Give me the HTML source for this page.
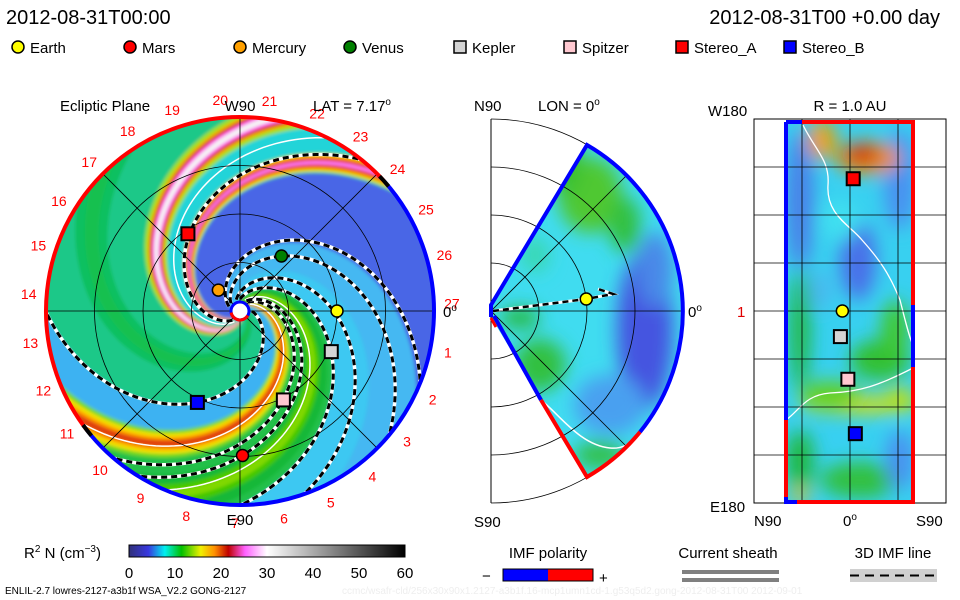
<!DOCTYPE html>
<html><head><meta charset="utf-8"><title>ENLIL</title>
<style>
html,body{margin:0;padding:0;background:#fff;}
svg{display:block;font-family:"Liberation Sans",sans-serif;}
text{fill:#000;}
</style></head>
<body>
<svg id="chart" xmlns="http://www.w3.org/2000/svg" width="960" height="600" viewBox="0 0 960 600">
<defs>
  <clipPath id="clipLeft"><circle cx="240" cy="311" r="194"/></clipPath>
  <clipPath id="clipWedge"><path d="M491,305 L587,145 A192,192 0 0 1 587,477 L491,317 Z"/></clipPath>
  <clipPath id="clipRect"><rect x="786" y="122" width="127" height="380"/></clipPath>
  <filter id="soft" x="-20%" y="-20%" width="140%" height="140%"><feGaussianBlur stdDeviation="1.6"/></filter>
  <filter id="blob" x="-50%" y="-50%" width="200%" height="200%"><feGaussianBlur stdDeviation="9"/></filter>
  <linearGradient id="cbar" x1="0" x2="1" y1="0" y2="0">
    <stop offset="0" stop-color="#303078"/>
    <stop offset="0.07" stop-color="#3838e0"/>
    <stop offset="0.13" stop-color="#00f0f0"/>
    <stop offset="0.19" stop-color="#00c000"/>
    <stop offset="0.26" stop-color="#f0f000"/>
    <stop offset="0.31" stop-color="#ff9000"/>
    <stop offset="0.36" stop-color="#c00000"/>
    <stop offset="0.42" stop-color="#ff60ff"/>
    <stop offset="0.5" stop-color="#ffffff"/>
    <stop offset="1" stop-color="#000000"/>
  </linearGradient>
</defs>

<text x="6" y="24" font-size="20">2012-08-31T00:00</text>
<text x="940" y="24" font-size="20" text-anchor="end">2012-08-31T00 +0.00 day</text>

<g id="legend"></g>

<g id="leftPanel"></g>
<g id="midPanel"></g>
<g id="rightPanel"></g>

<text x="60" y="111" font-size="15">Ecliptic Plane</text>
<text x="240" y="111" font-size="15" text-anchor="middle">W90</text>
<text x="313" y="111" font-size="15">LAT = 7.17<tspan font-size="10" dy="-6">o</tspan></text>
<text x="240" y="525" font-size="15" text-anchor="middle">E90</text>
<text x="443" y="317" font-size="15">0<tspan font-size="10" dy="-6">o</tspan></text>

<text x="474" y="111" font-size="15">N90</text>
<text x="538" y="111" font-size="15">LON = 0<tspan font-size="10" dy="-6">o</tspan></text>
<text x="688" y="317" font-size="15">0<tspan font-size="10" dy="-6">o</tspan></text>
<text x="474" y="527" font-size="15">S90</text>

<text x="708" y="116" font-size="15">W180</text>
<text x="850" y="111" font-size="15" text-anchor="middle">R = 1.0 AU</text>
<text x="737" y="317" font-size="15" style="fill:#e00000">1</text>
<text x="710" y="512" font-size="15">E180</text>
<text x="754" y="526" font-size="15">N90</text>
<text x="843" y="526" font-size="15">0<tspan font-size="10" dy="-6">o</tspan></text>
<text x="916" y="526" font-size="15">S90</text>

<text x="24" y="558" font-size="15">R<tspan font-size="10" dy="-6">2</tspan><tspan dy="6"> N (cm</tspan><tspan font-size="10" dy="-6">−3</tspan><tspan dy="6">)</tspan></text>
<rect x="129" y="545" width="276" height="12" fill="url(#cbar)" stroke="#000" stroke-width="1"/>
<g id="cbarTicks"></g>

<text x="5" y="594" font-size="10">ENLIL-2.7 lowres-2127-a3b1f WSA_V2.2 GONG-2127</text>
<text x="342" y="594" font-size="10" style="fill:#eeeeee">ccmc/wsafr-cld/256x30x90x1.2127-a3b1f.16-mcp1umn1cd-1.g53q5d2.gong-2012-08-31T00    2012-09-01</text>

<text x="548" y="558" font-size="15" text-anchor="middle">IMF polarity</text>
<text x="482" y="581" font-size="15">−</text>
<rect x="503" y="569" width="45" height="12" fill="#0000ff"/>
<rect x="548" y="569" width="45" height="12" fill="#ff0000"/>
<rect x="503" y="569" width="90" height="12" fill="none" stroke="#000"/>
<text x="599" y="583" font-size="15">+</text>

<text x="728" y="558" font-size="15" text-anchor="middle">Current sheath</text>
<rect x="682" y="570" width="97" height="4" fill="#808080"/>
<rect x="682" y="578" width="97" height="4" fill="#808080"/>

<text x="893" y="558" font-size="15" text-anchor="middle">3D IMF line</text>
<rect x="850" y="569" width="87" height="13" fill="#d0d0d0"/>
<line x1="850" y1="575.5" x2="937" y2="575.5" stroke="#000" stroke-width="2" stroke-dasharray="9,6"/>

<script>
// ---------- data ----------
const bodyNames   = ['Earth','Mars','Mercury','Venus','Kepler','Spitzer','Stereo_A','Stereo_B'];
const bodyLonDeg  = [0, -89, 136, 53, -24, -64, 124, -115];
const bodyRAU     = [1.0, 1.49, 0.31, 0.71, 1.03, 1.02, 0.96, 1.04];
const bodyLatDeg  = [7.17, 0, 0, 0, 9, 2, -3, -5];
const bodyShape   = ['circle','circle','circle','circle','square','square','square','square'];
const bodyColor   = ['#ffff00','#ff0000','#ffa000','#008000','#d4d4d4','#ffc8d0','#ff0000','#0000ff'];
const imfPhase    = [5, 54, 63, 95, 114, 145, 163, 236];
const sheathPhase = [248, 40, 72];
const sectorStart = [5, 30, 45, 95, 125, 160, 222, 238, 262, 275];
const sectorEnd   = [30, 45, 95, 125, 160, 222, 238, 262, 275, 365];
const cbarTicks   = [0, 10, 20, 30, 40, 50, 60];
const lonLabels   = [1,2,3,4,5,6,7,8,9,10,11,12,13,14,15,16,17,18,19,20,21,22,23,24,25,26,27];

// ---------- helpers ----------
const NS = 'http://www.w3.org/2000/svg';
function mk(tag, parent){ const e = document.createElementNS(NS, tag); parent.appendChild(e); return e; }
function set(e, o){ for (const k in o) e.setAttribute(k, o[k]); return e; }
const CX = 240, CY = 311, RMAX = 194, PXAU = 97;
function P(r, deg){ const a = deg*Math.PI/180; return [CX + r*Math.cos(a), CY - r*Math.sin(a)]; }
function f(r){ return 0.45*r + 35*Math.log(r/12); }
function spiralPts(th0, r1, r2){ const pts=[]; for(let r=r1;r<=r2;r+=3){ pts.push(P(r, th0 - f(r))); } return pts; }
function sectorPath(a, b){
  const pts = [];
  for (let r=6; r<=260; r+=4) pts.push(P(r, a - f(r)));
  for (let t=a; t<=b; t+=2) pts.push(P(260, t - f(260)));
  for (let r=260; r>=6; r-=4) pts.push(P(r, b - f(r)));
  return 'M' + pts.map(p=>p[0].toFixed(1)+','+p[1].toFixed(1)).join('L') + 'Z';
}

// ---------- legend ----------
const legend = document.getElementById('legend');
const legendX = [18,130,240,350,460,570,682,790];
bodyNames.forEach((n,i)=>{
  const x = legendX[i];
  let m;
  if (bodyShape[i]==='circle'){ m = set(mk('circle',legend),{cx:x,cy:47,r:6,fill:bodyColor[i],stroke:'#000','stroke-width':1.5}); }
  else { m = set(mk('rect',legend),{x:x-6,y:41,width:12,height:12,fill:bodyColor[i],stroke:'#000','stroke-width':1.5}); }
  
  
  const t = set(mk('text',legend),{x:x+12,y:53,'font-size':15});
  t.textContent = n;
  
  
});

// ---------- left panel ----------
const L = document.getElementById('leftPanel');
const sectorFill = ['#3cb2f2','#40c870','#22c04a','#3ec8f2','#44b8f2','#4a66e6','#30c8b0','#20d4d8','#30c888','#1cc888'];
const field = set(mk('g',L),{'clip-path':'url(#clipLeft)'});
const fieldInner = set(mk('g',field),{filter:'url(#soft)'});
set(mk('circle',fieldInner),{cx:CX,cy:CY,r:RMAX,fill:'#30c8c0'});
sectorStart.forEach((a,i)=>{
  const p = set(mk('path',fieldInner),{d:sectorPath(a, sectorEnd[i]), fill:sectorFill[i]});
  
  
});
const bandCenter = [266, 230, 38, 75, 320];
const bandLayers = [
  [[11,'#a0e020'],[8,'#f0b000'],[6,'#d81818'],[4,'#ff70f0'],[2,'#f4f4f4']],
  [[7,'#d0e000'],[5,'#ff9000'],[3,'#e02020'],[1.2,'#ff80ff']],
  [[11,'#70d820'],[8,'#f0e000'],[5,'#ff9a00'],[2.5,'#e04010']],
  [[14,'#18b838'],[7,'#44c800'],[3,'#80d800']],
  [[12,'#10c060'],[5,'#18c050']]
];
bandCenter.forEach((c,i)=>{
  bandLayers[i].forEach(l=>{
    const p = set(mk('path',fieldInner),{d:sectorPath(c-l[0], c+l[0]), fill:l[1]});
    
    
  });
});
sheathPhase.forEach(ph=>{
  const pts = spiralPts(ph, 12, 260);
  const pl = set(mk('polyline',field),{points:pts.map(p=>p.join(',')).join(' '),fill:'none',stroke:'#fff','stroke-width':1.5});
  
  
});
imfPhase.forEach(ph=>{
  const pts = spiralPts(ph, 12, 260).map(p=>p.join(',')).join(' ');
  const w = set(mk('polyline',field),{points:pts,fill:'none',stroke:'#fff','stroke-width':3.5});
  
  
  const b = set(mk('polyline',field),{points:pts,fill:'none',stroke:'#000','stroke-width':3,'stroke-dasharray':'6,4'});
  
  
});
[0.5,1,1.5].forEach(au=>{
  const c = set(mk('circle',L),{cx:CX,cy:CY,r:au*PXAU,fill:'none',stroke:'#000','stroke-width':0.8});
  
  
});
[0,45,90,135].forEach(d=>{
  const a = P(RMAX,d), b = P(RMAX,d+180);
  const ln = set(mk('line',L),{x1:a[0],y1:a[1],x2:b[0],y2:b[1],stroke:'#000','stroke-width':0.8});
  
  
});
function arcD(r, d1, d2){ const a=P(r,d1), b=P(r,d2); const large = Math.abs(d2-d1)>180?1:0; return `M${a[0]},${a[1]} A${r},${r} 0 ${large} 0 ${b[0]},${b[1]}`; }
const ringRed = set(mk('path',L),{d:arcD(RMAX,42,218),fill:'none',stroke:'#ff0000','stroke-width':4});


const ringBlue = set(mk('path',L),{d:arcD(RMAX,218,402),fill:'none',stroke:'#0000ff','stroke-width':4});


[[40,44],[216,220]].forEach(s=>{
  const k = set(mk('path',L),{d:arcD(RMAX,s[0],s[1]),fill:'none',stroke:'#000','stroke-width':4});
  
  
});
const sun = set(mk('circle',L),{cx:CX,cy:CY,r:9,fill:'#fff',stroke:'#0000ff','stroke-width':3});


const sunRed = set(mk('path',L),{d:arcD(9,190,330),fill:'none',stroke:'#ff0000','stroke-width':3});


lonLabels.forEach(k=>{
  const p = P(212, -13.333*k + 2);
  const t = set(mk('text',L),{x:p[0],y:p[1]+5,'font-size':14,'text-anchor':'middle',style:'fill:#ff0000'});
  t.textContent = k;
  
  
});
function drawMarker(parent, shape, x, y, color, name){
  let m;
  if (shape==='circle') m = set(mk('circle',parent),{cx:x,cy:y,r:6,fill:color,stroke:'#000','stroke-width':1.5});
  else m = set(mk('rect',parent),{x:x-6.5,y:y-6.5,width:13,height:13,fill:color,stroke:'#000','stroke-width':2});
  
  
}
bodyNames.forEach((n,i)=>{
  const p = P(bodyRAU[i]*PXAU, bodyLonDeg[i]);
  drawMarker(L, bodyShape[i], p[0], p[1], bodyColor[i], 'ecliptic-marker-' + n.toLowerCase());
});

// ---------- middle panel ----------
const M = document.getElementById('midPanel');
const MX = 491, MY = 311;
function MP(r, deg){ const a=deg*Math.PI/180; return [MX + r*Math.cos(a), MY - r*Math.sin(a)]; }
const mg = set(mk('g',M),{'clip-path':'url(#clipWedge)'});
set(mk('path',mg),{d:'M491,305 L587,145 A192,192 0 0 1 587,477 L491,317 Z',fill:'#40dcf0'});
const mblobs = set(mk('g',mg),{filter:'url(#blob)'});
[[590,195,32,38,'#50c830'],[565,165,16,30,'#38c030'],[625,225,16,28,'#30c040'],[540,365,26,26,'#30c040'],[520,318,20,10,'#28b838'],[645,330,28,80,'#4454e0'],[610,405,36,30,'#4aa0f0'],[655,270,18,38,'#4888e8'],[600,455,26,14,'#30c048'],[535,255,14,18,'#38d8b0']].forEach(b=>{
  const e = set(mk('ellipse',mblobs),{cx:b[0],cy:b[1],rx:b[2],ry:b[3],fill:b[4]});
  
  
});
const msheath = set(mk('path',mg),{d:'M541,400 C560,415 580,445 610,448 C620,449 630,446 640,432',fill:'none',stroke:'#fff','stroke-width':1.5});


const eP = MP(bodyRAU[0]*96, bodyLatDeg[0]);
const mimfW = set(mk('path',M),{d:`M493,311 L${eP[0]},${eP[1]} L613,294 L598,289`,fill:'none',stroke:'#fff','stroke-width':3});


const mimf = set(mk('path',M),{d:`M493,311 L${eP[0]},${eP[1]} L613,294 L598,289`,fill:'none',stroke:'#000','stroke-width':2.5,'stroke-dasharray':'6,4'});


[48,96,144,192].forEach(r=>{
  const a = MP(r,90), b = MP(r,-90);
  const c = set(mk('path',M),{d:`M${a[0]},${a[1]} A${r},${r} 0 0 1 ${b[0]},${b[1]}`,fill:'none',stroke:'#000','stroke-width':0.8});
  
  
});
[45,0,-45].forEach(d=>{
  const a = MP(192,d);
  const ln = set(mk('line',M),{x1:MX,y1:MY,x2:a[0],y2:a[1],stroke:'#000','stroke-width':0.8});
  
  
});
const mleft = set(mk('line',M),{x1:491,y1:119,x2:491,y2:503,stroke:'#000','stroke-width':1});


const mb = set(mk('path',M),{d:'M491,317 L491,305 L587,145 A192,192 0 0 1 640,432',fill:'none',stroke:'#0000ff','stroke-width':4});


const mb2 = set(mk('path',M),{d:'M494,316 L541,400',fill:'none',stroke:'#0000ff','stroke-width':4});


const mr = set(mk('path',M),{d:'M541,400 L587,477 A192,192 0 0 0 640,432',fill:'none',stroke:'#ff0000','stroke-width':4});


const mr2 = set(mk('path',M),{d:'M491,318 L496,327',fill:'none',stroke:'#ff0000','stroke-width':3});


drawMarker(M, 'circle', eP[0], eP[1], bodyColor[0], 'meridional-marker-earth');

// ---------- right panel ----------
const R = document.getElementById('rightPanel');
function RX(lat){ return 850 - lat*96/90; }
function RY(lon){ return 311 - lon*192/180; }
const rg = set(mk('g',R),{'clip-path':'url(#clipRect)'});
set(mk('rect',rg),{x:786,y:122,width:127,height:380,fill:'#38d0f0'});
const rblobs = set(mk('g',rg),{filter:'url(#blob)'});
[[800,200,14,70,'#4a80e8'],[900,180,16,50,'#4890f0'],[858,260,18,40,'#4a70e8'],[868,158,32,16,'#f09000'],[862,154,18,9,'#d01818'],[822,140,14,20,'#f0a000'],[800,330,10,60,'#20b840'],[880,360,30,20,'#30c030'],[895,330,14,30,'#40c830'],[860,405,60,8,'#e0e000'],[830,395,30,14,'#60d020'],[900,400,14,12,'#c8e000'],[800,460,14,30,'#20b840'],[860,480,40,18,'#30c040'],[900,460,14,30,'#4890f0'],[840,220,20,20,'#40e0f0'],[820,290,12,20,'#48b8f0'],[800,496,8,8,'#f0c000']].forEach(b=>{
  const e = set(mk('ellipse',rblobs),{cx:b[0],cy:b[1],rx:b[2],ry:b[3],fill:b[4]});
  
  
});
const rs1 = set(mk('path',rg),{d:'M803,125 C815,150 830,160 828,185 C826,215 850,225 862,240 C880,260 890,275 900,300 C905,320 910,340 913,345',fill:'none',stroke:'#fff','stroke-width':1.3});


const rs2 = set(mk('path',rg),{d:'M786,420 C800,410 805,395 830,393 C860,392 880,385 913,368',fill:'none',stroke:'#fff','stroke-width':1.3});


const rframe = set(mk('rect',R),{x:754,y:119,width:192,height:384,fill:'none',stroke:'#000','stroke-width':1});


[-135,-90,-45,0,45,90,135].forEach(lon=>{
  const ln = set(mk('line',R),{x1:754,y1:RY(lon),x2:946,y2:RY(lon),stroke:'#000','stroke-width':0.8});
  
  
});
[45,0,-45].forEach(lat=>{
  const ln = set(mk('line',R),{x1:RX(lat),y1:119,x2:RX(lat),y2:503,stroke:'#000','stroke-width':0.8});
  
  
});
[['M786,122 L786,420','#0000ff'],['M786,420 L786,497','#ff0000'],['M786,497 L786,502 L797,502','#0000ff'],['M797,502 L913,502 L913,367','#ff0000'],['M913,367 L913,305','#0000ff'],['M913,305 L913,122 L802,122','#ff0000'],['M802,122 L786,122','#0000ff']].forEach(s=>{
  const p = set(mk('path',R),{d:s[0],fill:'none',stroke:s[1],'stroke-width':4});
  
  
});
bodyNames.forEach((n,i)=>{
  if (['Earth','Kepler','Spitzer','Stereo_A','Stereo_B'].indexOf(n) < 0) return;
  drawMarker(R, bodyShape[i], RX(bodyLatDeg[i]), RY(bodyLonDeg[i]), bodyColor[i], 'sphere-marker-' + n.toLowerCase());
});

// ---------- colorbar ticks ----------
const CT = document.getElementById('cbarTicks');
function cbX(v){ return 129 + v/60*276; }
cbarTicks.forEach(v=>{
  const t = set(mk('text',CT),{x:cbX(v),y:578,'font-size':15,'text-anchor':'middle'});
  t.textContent = v;
  
  
});
</script>
</svg>
</body></html>
